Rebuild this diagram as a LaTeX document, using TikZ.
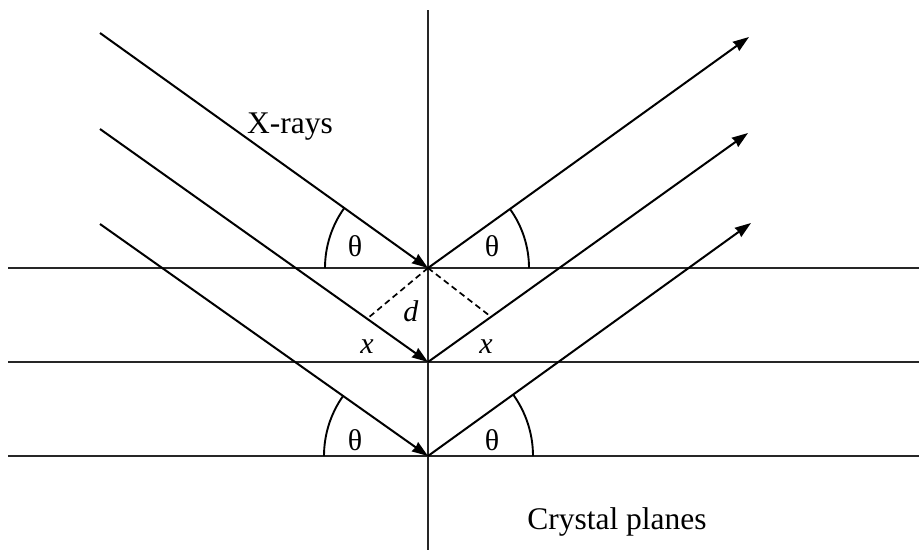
\documentclass[tikz,border=0pt]{standalone}
\usepackage{fontspec}
\setmainfont{Liberation Serif}
\usetikzlibrary{arrows.meta}
\begin{document}
\begin{tikzpicture}[x=1pt,y=-1pt,
  plane/.style={line width=2.4pt,black!85},
  ray/.style={line width=2pt,-{Stealth[length=16pt,width=11pt,inset=1pt]}},
  arcline/.style={line width=1.9pt},
  dashline/.style={line width=1.7pt,dash pattern=on 6pt off 4pt},
  lbl/.style={inner sep=0pt,font=\fontsize{30}{34}\selectfont},
  biglbl/.style={inner sep=0pt,font=\fontsize{31.5}{36}\selectfont}]
\useasboundingbox (0,0) rectangle (919,550);
% key points
\coordinate (O1) at (428,268);
\coordinate (O2) at (428,362);
\coordinate (O3) at (428,456);
\coordinate (A1) at (100,33);
\coordinate (A2) at (100,129);
\coordinate (A3) at (100,224);
\coordinate (B1) at (749,37);
\coordinate (B2) at (748,133);
\coordinate (B3) at (751,223);
\coordinate (D1) at (368,318);
\coordinate (D2) at (490,316);
\coordinate (Vt) at (428,10);
\coordinate (Vb) at (428,550);
\coordinate (L1) at (8,268);  \coordinate (R1) at (919,268);
\coordinate (L2) at (8,362);  \coordinate (R2) at (919,362);
\coordinate (L3) at (8,456);  \coordinate (R3) at (919,456);
% planes
\draw[plane] (L1) -- (R1);
\draw[plane] (L2) -- (R2);
\draw[plane] (L3) -- (R3);
\draw[line width=2.1pt,black!85] (Vt) -- (Vb);
% incoming rays
\draw[ray] (A1) -- (O1);
\draw[ray] (A2) -- (O2);
\draw[ray] (A3) -- (O3);
% outgoing rays
\draw[ray] (O1) -- (B1);
\draw[ray] (O2) -- (B2);
\draw[ray] (O3) -- (B3);
% dashed
\draw[dashline] (O1) -- (D1);
\draw[dashline] (O1) -- (D2);
% angle arcs
\draw[arcline] ([shift={(180:103)}]O1) arc[start angle=180,end angle=215.5,radius=103];
\draw[arcline] ([shift={(0:101)}]O1) arc[start angle=0,end angle=-35.8,radius=101];
\draw[arcline] ([shift={(180:104)}]O3) arc[start angle=180,end angle=215.3,radius=104];
\draw[arcline] ([shift={(0:105)}]O3) arc[start angle=0,end angle=-35.9,radius=105];
% labels
\node[lbl] (t1) at (355,246) {θ};
\node[lbl] (t2) at (492,246) {θ};
\node[lbl] (t3) at (355,440) {θ};
\node[lbl] (t4) at (492,440) {θ};
\node[lbl] (dl) at (411,311) {\textit{d}};
\node[lbl] (x1) at (367,347) {\textit{x}};
\node[lbl] (x2) at (486,347) {\textit{x}};
\node[biglbl] (xr) at (290,127) {X-rays};
\node[biglbl] (cp) at (617,522) {Crystal planes};
\end{tikzpicture}
\end{document}
